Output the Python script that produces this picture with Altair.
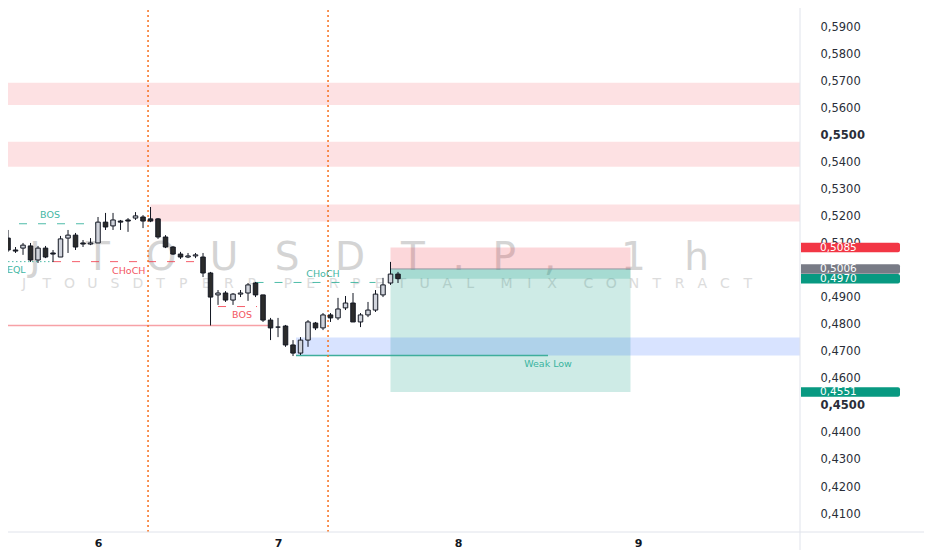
import pandas as pd
import altair as alt

# price pane, in reference pixels
W, H = 800, 532
X_MIN, X_MAX = -13.07, 93.6      # hours since day 6, 00:00
Y_MIN, Y_MAX = 0.40337, 0.6
PX_H = (X_MAX - X_MIN) / W
PX_P = (Y_MAX - Y_MIN) / H

# 1h candles
hours = list(range(-13, 41))
opens = [0.5139, 0.5120, 0.5076, 0.5083, 0.5091, 0.5039, 0.5083, 0.5065, 0.5050, 0.5120, 0.5131, 0.5102, 0.5098,
         0.5102, 0.5179, 0.5165, 0.5183, 0.5187, 0.5194, 0.5198, 0.5191, 0.5191, 0.5124, 0.5087, 0.5061, 0.5050,
         0.5054, 0.5050, 0.4991,
         0.4910, 0.4917, 0.4891, 0.4913, 0.4917, 0.4954, 0.4910, 0.4817, 0.4791, 0.4795, 0.4725, 0.4695, 0.4743,
         0.4806, 0.4788, 0.4836, 0.4825, 0.4862, 0.4880, 0.4810, 0.4836, 0.4854, 0.4910, 0.4954, 0.4987]
highs = [0.5154, 0.5150, 0.5087, 0.5102, 0.5102, 0.5091, 0.5091, 0.5076, 0.5128, 0.5150, 0.5139, 0.5113, 0.5120,
         0.5198, 0.5213, 0.5213, 0.5187, 0.5194, 0.5216, 0.5205, 0.5235, 0.5194, 0.5131, 0.5091, 0.5069, 0.5065,
         0.5065, 0.5065, 0.4995,
         0.4928, 0.4924, 0.4917, 0.4928, 0.4954, 0.4958, 0.4910, 0.4825, 0.4825, 0.4799, 0.4743, 0.4754, 0.4817,
         0.4810, 0.4843, 0.4843, 0.4899, 0.4906, 0.4917, 0.4843, 0.4884, 0.4928, 0.4973, 0.5032, 0.4995]
lows = [0.5109, 0.5069, 0.5065, 0.5058, 0.5032, 0.5028, 0.5046, 0.5032, 0.5050, 0.5065, 0.5076, 0.5087, 0.5094,
        0.5102, 0.5150, 0.5150, 0.5150, 0.5143, 0.5187, 0.5157, 0.5179, 0.5117, 0.5083, 0.5058, 0.5043, 0.5046,
        0.5046, 0.4976, 0.4797,
        0.4873, 0.4884, 0.4873, 0.4902, 0.4888, 0.4902, 0.4810, 0.4743, 0.4754, 0.4718, 0.4684, 0.4688, 0.4718,
        0.4780, 0.4780, 0.4810, 0.4817, 0.4854, 0.4810, 0.4791, 0.4828, 0.4847, 0.4902, 0.4947, 0.4954]
closes = [0.5113, 0.5076, 0.5072, 0.5094, 0.5039, 0.5083, 0.5050, 0.5061, 0.5117, 0.5131, 0.5087, 0.5098, 0.5102,
          0.5179, 0.5161, 0.5187, 0.5179, 0.5183, 0.5202, 0.5183, 0.5183, 0.5124, 0.5087, 0.5061, 0.5050, 0.5054,
          0.5058, 0.4991, 0.4902,
          0.4917, 0.4891, 0.4913, 0.4917, 0.4947, 0.4910, 0.4817, 0.4788, 0.4791, 0.4725, 0.4695, 0.4743, 0.4810,
          0.4788, 0.4836, 0.4825, 0.4858, 0.4880, 0.4810, 0.4836, 0.4854, 0.4913, 0.4947, 0.4987, 0.4970]

# supply zones (pink)
supply_from = [X_MIN, X_MIN, 7]
supply_lo = [0.5612, 0.5384, 0.5181]
supply_hi = [0.5694, 0.5476, 0.5244]

# short position tool
pos_from, pos_to = 39, 71
stop_price = 0.5085
entry_price = 0.5006
last_price = 0.4970
target_price = 0.4551

# demand zone (blue) and weak low
demand_from = 26.4
demand_lo, demand_hi = 0.4686, 0.4753
weak_low_from, weak_low_to = 26.4, 60

# swing low line (red)
swing_to = 22.7
swing_price = 0.4797

# structure lines
struct_from = [X_MIN, -6, 16, 21]
struct_to = [0, 13, 21.2, 37]
struct_price = [0.5173, 0.5033, 0.4867, 0.4956]
struct_kind = ["bull", "bear", "bear", "bull"]
eql_from, eql_to, eql_price = X_MIN, -6, 0.5033

label_text = ["BOS", "EQL", "CHoCH", "BOS", "CHoCH", "Weak Low"]
label_hour = [-6.4, -10.9, 4.1, 19.2, 30.0, 60.0]
label_price = [0.5205, 0.5002, 0.4998, 0.4836, 0.4987, 0.4655]
label_kind = ["bull", "bull", "bear", "bear", "bull", "bull"]

session_hours = [6.67, 30.67]

tag_prices = [0.5085, 0.5006, 0.4970, 0.4551]
tag_colors = ["#f23645", "#787b86", "#089981", "#089981"]

# 0,5000 sits under the price tags and is not shown
Y_TICKS = [0.41, 0.42, 0.43, 0.44, 0.45, 0.46, 0.47, 0.48, 0.49,
           0.51, 0.52, 0.53, 0.54, 0.55, 0.56, 0.57, 0.58, 0.59, 0.60]
DAY_TICKS = [0, 24, 48, 72]
DAY_LABELS = ["6", "7", "8", "9"]

TEAL = "#22ab94"
RED = "#f23645"
kind_color = {"bull": TEAL, "bear": RED}

xs = alt.Scale(domain=[X_MIN, X_MAX], nice=False, zero=False)
ys = alt.Scale(domain=[Y_MIN, Y_MAX], nice=False, zero=False)

x_axis = alt.Axis(
    values=DAY_TICKS,
    labelExpr="[" + ",".join(f"'{d}'" for d in DAY_LABELS) + "][round(datum.value / 24)]",
    grid=False, ticks=False, domain=False, labelFont="DejaVu Sans", labelFontSize=11,
    labelFontWeight="bold", labelColor="#131722", labelPadding=5,
)
y_axis = alt.Axis(
    orient="right", values=Y_TICKS,
    labelExpr="replace(format(datum.value, '.4f'), '.', ',')",
    grid=False, ticks=False, domain=False, labelAlign="left", labelPadding=20,
    labelFont="DejaVu Sans", labelFontSize=11.5, labelColor="#2a2e39",
    labelFontWeight={"condition": {"test": "abs(datum.value * 20 - round(datum.value * 20)) < 0.01",
                                   "value": "bold"}, "value": "normal"},
)


def X(f):
    return alt.X(f"{f}:Q", scale=xs, axis=x_axis, title=None)


def Y(f):
    return alt.Y(f"{f}:Q", scale=ys, axis=y_axis, title=None)


def to_hour(px):
    return X_MIN + px * PX_H


# watermark, one glyph per row so the wide letter spacing can be kept
def glyph_row(text, start_px, advance):
    rows, pos, prev = [], start_px, None
    for ch in text:
        w = 0.45 if ch in ".," else (0.6 if ch == " " else 1.0)
        if prev is not None:
            pos += (prev + w) / 2 * advance
        rows.append({"ch": ch, "h": to_hour(pos)})
        prev = w
    return pd.DataFrame(rows)


wm_big = glyph_row("JTOUSDT.P, 1h", 35, 63)
wm_small = glyph_row("JTOUSDTPERP PERPETUAL MIX CONTRACT", 24, 22.76)

wm1 = alt.Chart(wm_big).mark_text(font="DejaVu Sans", fontSize=39, color="#d4d4d4",
                                   baseline="alphabetic").encode(x=X("h"), y=alt.value(270), text="ch:N")
wm2 = alt.Chart(wm_small).mark_text(font="DejaVu Sans", fontSize=14, color="#dcdcdc",
                                     baseline="alphabetic").encode(x=X("h"), y=alt.value(288), text="ch:N")

supply = pd.DataFrame({"x0": supply_from, "x1": [X_MAX] * 3, "p0": supply_lo, "p1": supply_hi})
supply_layer = alt.Chart(supply).mark_rect(color=RED, opacity=0.15).encode(
    x=X("x0"), x2="x1", y=Y("p0"), y2="p1")

pos = pd.DataFrame({
    "x0": [pos_from] * 3, "x1": [pos_to] * 3,
    "p0": [entry_price, target_price, last_price],
    "p1": [stop_price, entry_price, entry_price],
    "col": [RED, "#089981", "#089981"],
})
pos_layer = alt.Chart(pos).mark_rect(opacity=0.2).encode(
    x=X("x0"), x2="x1", y=Y("p0"), y2="p1", color=alt.Color("col:N", scale=None))
entry_layer = alt.Chart(pd.DataFrame({"x0": [pos_from], "x1": [pos_to], "p": [entry_price]})).mark_rule(
    color="#9598a1", strokeWidth=1).encode(x=X("x0"), x2="x1", y=Y("p"))

demand = pd.DataFrame({"x0": [demand_from], "x1": [X_MAX], "p0": [demand_lo], "p1": [demand_hi]})
demand_layer = alt.Chart(demand).mark_rect(color="#2962ff", opacity=0.18).encode(
    x=X("x0"), x2="x1", y=Y("p0"), y2="p1")

lines = pd.DataFrame({
    "x0": [weak_low_from, X_MIN], "x1": [weak_low_to, swing_to],
    "p": [demand_lo, swing_price], "col": ["#3fae9c", "#f7a1a6"],
})
lines_layer = alt.Chart(lines).mark_rule(strokeWidth=1.5).encode(
    x=X("x0"), x2="x1", y=Y("p"), color=alt.Color("col:N", scale=None))

struct = pd.DataFrame({"x0": struct_from, "x1": struct_to, "p": struct_price,
                       "col": [kind_color[k] for k in struct_kind]})
struct_layer = alt.Chart(struct).mark_rule(strokeWidth=1, strokeDash=[8, 11], opacity=0.8).encode(
    x=X("x0"), x2="x1", y=Y("p"), color=alt.Color("col:N", scale=None))
eql_layer = alt.Chart(pd.DataFrame({"x0": [eql_from], "x1": [eql_to], "p": [eql_price]})).mark_rule(
    strokeWidth=1, strokeDash=[1.5, 2.5], color=TEAL, opacity=0.8).encode(x=X("x0"), x2="x1", y=Y("p"))

session_layer = alt.Chart(pd.DataFrame({"h": session_hours})).mark_rule(
    color="#f7701f", strokeWidth=1.5, strokeDash=[2, 3]).encode(x=X("h"))

candles = pd.DataFrame({"h": hours, "o": opens, "hi": highs, "lo": lows, "c": closes})
candles["x0"] = candles["h"] - 0.3
candles["x1"] = candles["h"] + 0.3
candles["fill"] = ["#d1d4dc" if c >= o else "#2b2b2b" for o, c in zip(opens, closes)]
wick_layer = alt.Chart(candles).mark_rule(color="#131722", strokeWidth=1).encode(
    x=X("h"), y=Y("lo"), y2="hi")
body_layer = alt.Chart(candles).mark_rect(stroke="#131722", strokeWidth=1).encode(
    x=X("x0"), x2="x1", y=Y("o"), y2="c", fill=alt.Fill("fill:N", scale=None))

labels = pd.DataFrame({"t": label_text, "h": label_hour, "p": label_price,
                       "col": [kind_color[k] for k in label_kind]})
label_layer = alt.Chart(labels).mark_text(font="DejaVu Sans", fontSize=9.5, opacity=0.85).encode(
    x=X("h"), y=Y("p"), text="t:N", color=alt.Color("col:N", scale=None))

# frame lines that run past the plot area
frame_right = alt.Chart(pd.DataFrame({"a": [0]})).mark_rule(color="#e0e3eb", strokeWidth=1).encode(
    x=alt.value(W), y=alt.value(0), y2=alt.value(H + 30))
frame_bottom = alt.Chart(pd.DataFrame({"a": [0]})).mark_rule(color="#e0e3eb", strokeWidth=1).encode(
    x=alt.value(-10), x2=alt.value(W + 150), y=alt.value(H))

tags = pd.DataFrame({
    "p": tag_prices,
    "p0": [p - 4.8 * PX_P for p in tag_prices],
    "p1": [p + 4.8 * PX_P for p in tag_prices],
    "col": tag_colors,
    "t": [f"{p:.4f}".replace(".", ",") for p in tag_prices],
})
tag_box = alt.Chart(tags).mark_rect(cornerRadiusTopRight=2, cornerRadiusBottomRight=2).encode(
    x=alt.value(W + 1), x2=alt.value(W + 100), y=Y("p0"), y2="p1", color=alt.Color("col:N", scale=None))
tag_text = alt.Chart(tags).mark_text(font="DejaVu Sans", fontSize=10.5, color="white", align="left").encode(
    x=alt.value(W + 20), y=Y("p"), text="t:N")

chart = alt.layer(
    wm1, wm2, supply_layer, pos_layer, entry_layer, demand_layer, lines_layer,
    struct_layer, eql_layer, session_layer, wick_layer, body_layer, label_layer,
    frame_right, frame_bottom, tag_box, tag_text,
).properties(
    width=W, height=H,
    autosize=alt.AutoSizeParams(type="none"),
    padding={"left": -8, "top": -8, "right": 124, "bottom": 18},
    background="white",
).configure_view(stroke=None)

chart.save("out.html", embed_options={"renderer": "svg", "actions": False})
